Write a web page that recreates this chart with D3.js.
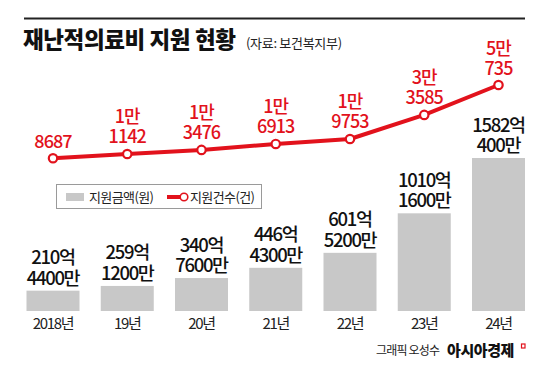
<!DOCTYPE html>
<html>
<head>
<meta charset="utf-8">
<script src="https://cdn.jsdelivr.net/npm/d3@7"></script>
<style>
  body { margin: 0; background: #fff; }
  svg text { font-family: "Noto Sans CJK KR", "Noto Sans", sans-serif; }
</style>
</head>
<body>
<div id="chart"></div>
<script>
const years = ["2018년", "19년", "20년", "21년", "22년", "23년", "24년"];
// 지원금액, 억원 단위
const amounts = [210.44, 259.12, 340.76, 446.43, 601.52, 1010.16, 1582.04];
// 지원건수
const counts = [8687, 11142, 13476, 16913, 19753, 33585, 50735];

const red = "#e2121c";
const gray = "#c8c8c8";
const width = 550, height = 370;

const svg = d3.select("#chart").append("svg")
  .attr("width", width)
  .attr("height", height);

// header
svg.append("line")
  .attr("x1", 24).attr("x2", 525)
  .attr("y1", 18.5).attr("y2", 18.5)
  .attr("stroke", "#222").attr("stroke-width", 2);

svg.append("text")
  .attr("x", 23).attr("y", 48)
  .attr("font-size", 22.5).attr("font-weight", 900)
  .attr("letter-spacing", -0.4)
  .attr("fill", "#111")
  .text("재난적의료비 지원 현황");

svg.append("text")
  .attr("x", 246).attr("y", 48)
  .attr("font-size", 13)
  .attr("letter-spacing", -0.3)
  .attr("fill", "#222")
  .text("(자료: 보건복지부)");

// scales
const x = d3.scaleBand()
  .domain(years)
  .range([26.5, 525])
  .paddingInner(0.286)
  .paddingOuter(0);

const yBar = d3.scaleLinear()
  .domain([0, d3.max(amounts)])
  .range([311, 158]);

const yLine = d3.scaleLinear()
  .domain([0, d3.max(counts)])
  .range([173.4, 85]);

function amountLabel(v) {
  const eok = Math.floor(v);
  const man = Math.round((v - eok) * 10000);
  return [eok + "억", man + "만"];
}
function countLabel(v) {
  if (v < 10000) return [String(v)];
  return [Math.floor(v / 10000) + "만", String(v % 10000)];
}

// bars
const barData = years.map((y, i) => ({ year: y, value: amounts[i] }));
svg.selectAll("rect.bar")
  .data(barData)
  .enter().append("rect")
  .attr("class", "bar")
  .attr("x", d => x(d.year))
  .attr("width", x.bandwidth())
  .attr("y", d => yBar(d.value))
  .attr("height", d => yBar(0) - yBar(d.value))
  .attr("fill", gray);

svg.selectAll("text.bar-label")
  .data(barData)
  .enter().append("text")
  .attr("class", "bar-label")
  .attr("text-anchor", "middle")
  .attr("font-size", 18.5)
  .attr("font-weight", 500)
  .attr("letter-spacing", -1.3)
  .attr("fill", "#111")
  .each(function(d) {
    const lines = amountLabel(d.value);
    const cx = x(d.year) + x.bandwidth() / 2;
    const base = yBar(d.value) - 6;
    d3.select(this).selectAll("tspan")
      .data(lines)
      .enter().append("tspan")
      .attr("x", cx)
      .attr("y", (l, j) => base - (lines.length - 1 - j) * 20.5)
      .text(l => l);
  });

// x axis labels
svg.selectAll("text.year")
  .data(years)
  .enter().append("text")
  .attr("class", "year")
  .attr("x", d => x(d) + x.bandwidth() / 2)
  .attr("y", 328.5)
  .attr("text-anchor", "middle")
  .attr("font-size", 15)
  .attr("font-weight", 400)
  .attr("letter-spacing", -1.3)
  .attr("fill", "#222")
  .text(d => d);

// line
const lineData = years.map((y, i) => ({ year: y, value: counts[i] }));
const cxOf = d => x(d.year) + x.bandwidth() / 2;
svg.append("path")
  .datum(lineData)
  .attr("fill", "none")
  .attr("stroke", red)
  .attr("stroke-width", 4)
  .attr("stroke-linejoin", "round")
  .attr("d", d3.line().x(cxOf).y(d => yLine(d.value)));

svg.selectAll("circle.pt")
  .data(lineData)
  .enter().append("circle")
  .attr("class", "pt")
  .attr("cx", cxOf)
  .attr("cy", d => yLine(d.value))
  .attr("r", 4.2)
  .attr("fill", "#fff")
  .attr("stroke", red)
  .attr("stroke-width", 2.2);

svg.selectAll("text.count-label")
  .data(lineData)
  .enter().append("text")
  .attr("class", "count-label")
  .attr("text-anchor", "middle")
  .attr("font-size", 18)
  .attr("font-weight", 500)
  .attr("letter-spacing", -0.9)
  .attr("fill", red)
  .each(function(d) {
    const lines = countLabel(d.value);
    const base = yLine(d.value) - 10.5;
    d3.select(this).selectAll("tspan")
      .data(lines)
      .enter().append("tspan")
      .attr("x", cxOf(d))
      .attr("y", (l, j) => base - (lines.length - 1 - j) * 20)
      .text(l => l);
  });

// legend
const legend = svg.append("g");
legend.append("rect")
  .attr("x", 56.5).attr("y", 184.5)
  .attr("width", 205).attr("height", 24)
  .attr("fill", "#fff")
  .attr("stroke", "#9a9a9a").attr("stroke-width", 1);
legend.append("rect")
  .attr("x", 66).attr("y", 193)
  .attr("width", 18).attr("height", 8)
  .attr("fill", gray);
legend.append("text")
  .attr("x", 89).attr("y", 201.5)
  .attr("font-size", 13)
  .attr("letter-spacing", -0.6)
  .attr("fill", "#222")
  .text("지원금액(원)");
legend.append("line")
  .attr("x1", 167).attr("x2", 181)
  .attr("y1", 197).attr("y2", 197)
  .attr("stroke", red).attr("stroke-width", 4);
legend.append("circle")
  .attr("cx", 184).attr("cy", 197).attr("r", 3.8)
  .attr("fill", "#fff").attr("stroke", red).attr("stroke-width", 1.6);
legend.append("text")
  .attr("x", 190).attr("y", 201.5)
  .attr("font-size", 13)
  .attr("letter-spacing", -0.6)
  .attr("fill", "#222")
  .text("지원건수(건)");

// footer
svg.append("text")
  .attr("x", 376).attr("y", 355)
  .attr("font-size", 12)
  .attr("letter-spacing", -0.8)
  .attr("fill", "#222")
  .text("그래픽 오성수");
svg.append("text")
  .attr("x", 447).attr("y", 355.5)
  .attr("font-size", 15)
  .attr("font-weight", 900)
  .attr("letter-spacing", -0.4)
  .attr("fill", "#111")
  .text("아시아경제");
svg.append("rect")
  .attr("x", 521.5).attr("y", 344)
  .attr("width", 3.5).attr("height", 4)
  .attr("fill", "none")
  .attr("stroke", red).attr("stroke-width", 1.2);
</script>
</body>
</html>
